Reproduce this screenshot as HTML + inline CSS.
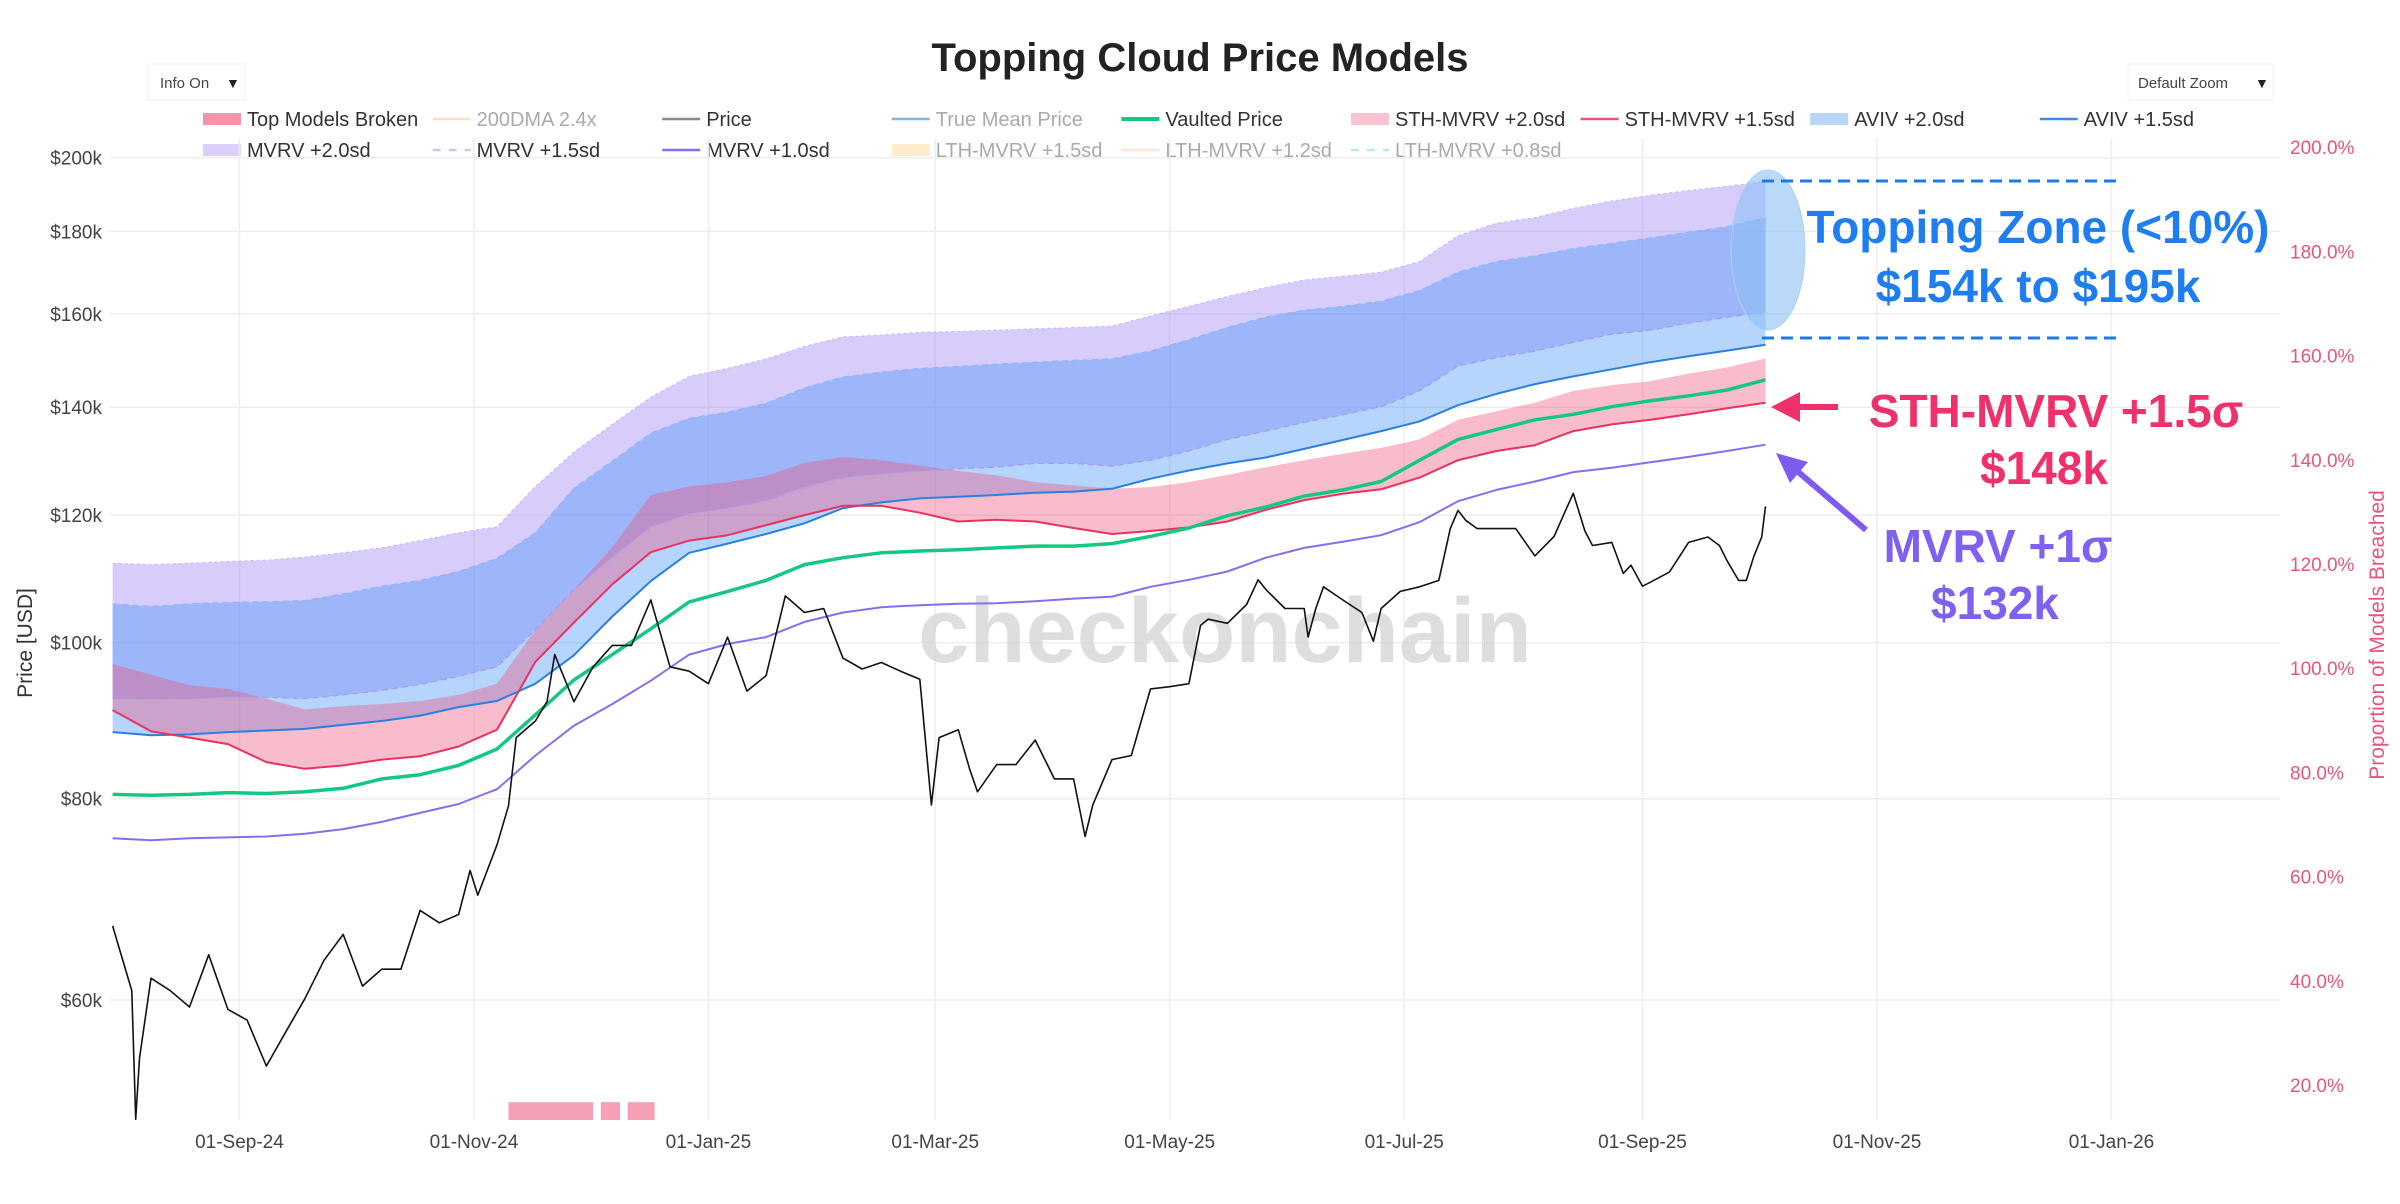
<!DOCTYPE html>
<html><head><meta charset="utf-8"><style>
html,body{margin:0;padding:0;background:#fff;}
svg{display:block;font-family:"Liberation Sans",Arial,sans-serif;}
</style></head><body>
<svg id="chart" width="2400" height="1204" viewBox="0 0 2400 1204">
<rect x="0" y="0" width="2400" height="1204" fill="#fff"/>
<text x="1200" y="71" text-anchor="middle" font-size="40" font-weight="bold" fill="#222">Topping Cloud Price Models</text>
<g><rect x="148" y="64" width="97" height="36" fill="#fff" stroke="#f0f0f0"/><text x="160" y="88" font-size="15" fill="#444">Info On</text><text x="226" y="88" font-size="14" fill="#222">▼</text></g>
<g><rect x="2128" y="64" width="145" height="36" fill="#fff" stroke="#f0f0f0"/><text x="2138" y="88" font-size="15" fill="#444">Default Zoom</text><text x="2255" y="88" font-size="14" fill="#222">▼</text></g>
<g id="legend"></g>
<g id="grid"></g>
<g id="bands"></g>
<text x="1225" y="662" text-anchor="middle" font-size="92" font-weight="bold" fill="#d6d6d6" fill-opacity="0.8">checkonchain</text>
<g id="lines"></g>
<g id="axes"></g>
<g>
<ellipse cx="1768" cy="250" rx="37" ry="80" fill="#8cc0f5" fill-opacity="0.6" stroke="#a8d0f8"/>
<line x1="1762" y1="181" x2="2116" y2="181" stroke="#1a7be8" stroke-width="3" stroke-dasharray="12,7"/>
<line x1="1762" y1="338" x2="2116" y2="338" stroke="#1a7be8" stroke-width="3" stroke-dasharray="12,7"/>
<text x="2038" y="243" text-anchor="middle" font-size="46" font-weight="bold" fill="#1e7ef0">Topping Zone (&lt;10%)</text>
<text x="2038" y="302" text-anchor="middle" font-size="46" font-weight="bold" fill="#1e7ef0">$154k to $195k</text>
<g><line x1="1838" y1="407" x2="1795" y2="407" stroke="#f0306a" stroke-width="6"/><polygon points="1771,407 1800,392 1800,422" fill="#f0306a"/></g>
<text x="2056" y="427" text-anchor="middle" font-size="46" font-weight="bold" fill="#f0306a">STH-MVRV +1.5σ</text>
<text x="2044" y="484" text-anchor="middle" font-size="46" font-weight="bold" fill="#f0306a">$148k</text>
<g><line x1="1866" y1="530" x2="1796" y2="470" stroke="#7f5af0" stroke-width="6"/><polygon points="1776,453 1808,462 1790,483" fill="#7f5af0"/></g>
<text x="1998" y="562" text-anchor="middle" font-size="46" font-weight="bold" fill="#8060f0">MVRV +1σ</text>
<text x="1995" y="619" text-anchor="middle" font-size="46" font-weight="bold" fill="#8060f0">$132k</text>
</g>
</svg>
<script>
// ---- data (day offsets from 2024-07-30, values in $k) ----
const bandDays = [0,10,20,30,40,50,60,70,80,90,100,110,120,130,140,150,160,170,180,190,200,210,220,230,240,250,260,270,280,290,300,310,320,330,340,350,360,370,380,390,400,410,420,430];
const mvrv20 = [112,111.8,112,112.3,112.5,113,113.7,114.5,115.7,117,118,125,131.3,136.6,142,146.3,148,150,152.7,154.8,155.2,155.8,156,156.3,156.6,156.9,157.2,159.5,161.7,164,166.1,167.9,168.8,169.8,172.4,178.9,182.1,183.6,186,188,189.5,190.8,192,193.3];
const mvrv15 = [92.3,92.2,92.3,92.5,92.5,92.3,92.8,93.4,94.2,95.3,96.6,101.9,107.9,113,118,120.2,121.2,122.5,124.9,126.6,127.3,127.8,128.2,128.5,129.2,129.2,128.7,129.8,131.5,133.7,135.3,137,138.5,140.1,143.3,148.5,150.3,151.7,153.6,155.4,156.3,157.9,159.2,160.4];
const mvrv10 = [75.6,75.4,75.6,75.7,75.8,76.1,76.6,77.4,78.4,79.4,81.1,85.1,88.8,91.6,94.7,98.3,99.8,100.8,103,104.4,105.2,105.5,105.7,105.8,106.1,106.5,106.8,108.3,109.4,110.7,112.9,114.5,115.5,116.6,118.8,122.4,124.4,125.9,127.6,128.4,129.4,130.4,131.5,132.7];
const aviv20 = [105.7,105.3,105.7,105.9,106,106.2,107.2,108.4,109.3,110.7,112.8,117,124.7,129.6,134.9,137.8,139,140.8,143.9,146.2,147.2,148,148.4,148.9,149.3,149.7,150,151.7,154.2,156.9,159.3,160.8,161.7,162.9,165.4,169.8,172.4,173.8,175.6,177,178.3,179.8,181.2,183.6];
const aviv15 = [88.0,87.6,87.7,88.0,88.2,88.4,88.9,89.4,90.1,91.2,92.0,94.3,98.2,103.8,109.2,113.7,115.2,116.8,118.6,121.2,122.2,122.9,123.2,123.5,123.9,124.1,124.6,126.4,127.9,129.2,130.3,131.9,133.6,135.3,137.2,140.4,142.7,144.7,146.3,147.8,149.3,150.6,151.8,153.1];
const sth20 = [97.0,95.5,94.1,93.6,92.3,90.9,91.3,91.6,92.0,92.8,94.3,101.9,107.9,114.6,123.5,125,125.8,126.9,129.3,130.4,129.8,128.8,127.8,127,125.8,125.2,124.6,124.9,125.8,127.1,128.5,129.8,131,132.1,133.7,137.5,139.2,140.9,143.3,144.5,145.3,146.9,148.2,150.1];
const sth15 = [90.8,88.1,87.3,86.5,84.3,83.5,83.9,84.6,85,86.2,88.3,97.3,102.9,108.7,113.8,115.7,116.6,118.3,120,121.6,121.6,120.4,118.9,119.2,118.9,117.8,116.8,117.3,117.9,118.9,120.9,122.6,123.7,124.5,126.6,129.8,131.5,132.6,135.3,136.6,137.5,138.6,139.8,140.9];
const vaulted = [80.5,80.4,80.5,80.7,80.6,80.8,81.2,82.3,82.8,83.9,85.9,90.2,94.8,98.3,102,106,107.6,109.3,111.8,112.9,113.7,114,114.2,114.5,114.8,114.8,115.2,116.4,117.8,119.9,121.4,123.3,124.4,125.9,129.8,133.7,135.6,137.5,138.6,140.1,141.3,142.3,143.5,145.6];
const priceDays = [0,5,6,7,10,15,20,25,30,35,40,45,50,55,60,65,70,75,80,85,90,93,95,100,103,105,110,113,115,120,125,130,135,140,145,150,155,160,165,170,175,180,185,190,195,200,205,210,213,215,220,223,225,230,235,240,245,250,253,255,260,265,270,275,280,283,285,290,295,298,300,305,310,311,313,315,320,325,328,330,335,340,343,345,348,350,352,355,360,365,370,375,378,380,383,385,390,393,395,398,400,405,410,415,418,420,423,425,427,429,430];
const priceVals = [66.7,60.8,50.6,55.2,61.9,60.8,59.4,64.0,59.2,58.3,54.6,57.3,60.1,63.5,65.9,61.2,62.7,62.7,68.2,67,67.8,72.2,69.7,74.9,79.2,87.3,89.4,91.9,98.3,91.9,96.6,99.6,99.6,106.3,96.6,96,94.3,100.8,93.3,95.4,106.9,104.4,105,97.8,96.3,97.2,96,94.9,79.3,87.3,88.3,83.4,80.8,84,84,87,82.3,82.3,75.8,79.3,84.6,85.1,93.6,93.9,94.3,102.5,103.4,102.8,105.6,109.4,107.9,105,105,100.8,105,108.3,106.3,104.4,100.2,105,107.6,108.3,108.9,109.3,117.7,120.8,119.1,117.7,117.7,117.7,113.2,116.4,120.8,123.8,117.3,114.9,115.4,110.4,111.7,108.4,109,110.6,115.4,116.3,114.9,112.4,109.3,109.3,113.2,116.3,121.5];
const brokenStart = [103,127,134];
const brokenEnd = [125,132,141];
const brokenVal = [16.7,16.7,16.7];
const leftTicks = [60,80,100,120,140,160,180,200];
const rightTicks = [20,40,60,80,100,120,140,160,180,200];
const dateTickDays = [33,94,155,214,275,336,398,459,520];
const dateTickLabels = ["01-Sep-24","01-Nov-24","01-Jan-25","01-Mar-25","01-May-25","01-Jul-25","01-Sep-25","01-Nov-25","01-Jan-26"];

// ---- scales ----
const PL=110, PR=2280, PT=138, PB=1120;
function xs(d){return 112.6 + d*3.844;}
function ys(v){return 157.7 + Math.log(200/v)*699.6;}
function yr(p){return 1085 - (p-20)*5.21;}
const NS="http://www.w3.org/2000/svg";
function mk(tag, parent){const e=document.createElementNS(NS,tag);parent.appendChild(e);return e;}
function pts(days, vals){return days.map((d,i)=>xs(d).toFixed(1)+","+ys(vals[i]).toFixed(1));}

const grid=document.getElementById('grid');
leftTicks.forEach(t=>{
  const l=mk('line',grid);
  
  
  l.setAttribute('x1',PL);l.setAttribute('x2',PR);l.setAttribute('y1',ys(t));l.setAttribute('y2',ys(t));
  l.setAttribute('stroke','#ededed');l.setAttribute('stroke-width','1.5');
});
dateTickDays.forEach(d=>{
  const l=mk('line',grid);
  
  
  l.setAttribute('x1',xs(d));l.setAttribute('x2',xs(d));l.setAttribute('y1',PT);l.setAttribute('y2',PB);
  l.setAttribute('stroke','#ededed');l.setAttribute('stroke-width','1.5');
});

const bands=document.getElementById('bands');
function band(top,bot,fill,op,name){
  const p=mk('polygon',bands);
  
  
  const a=pts(bandDays,top), b=pts(bandDays,bot).reverse();
  p.setAttribute('points',a.concat(b).join(' '));
  p.setAttribute('fill',fill);p.setAttribute('fill-opacity',op);
}
band(mvrv20,mvrv15,'rgb(160,130,245)',0.41,'mvrv-band');
band(aviv20,aviv15,'rgb(70,150,250)',0.40,'aviv-band');
band(sth20,sth15,'rgb(240,80,120)',0.38,'sth-band');

// broken bars
brokenStart.forEach((s,i)=>{
  const r=mk('rect',bands);
  
  
  const x1=xs(s), x2=xs(brokenEnd[i]), y=yr(brokenVal[i]);
  r.setAttribute('x',x1);r.setAttribute('width',x2-x1);r.setAttribute('y',y);r.setAttribute('height',PB-y);
  r.setAttribute('fill','#f5a0b4');
});

const lines=document.getElementById('lines');
function line(days,vals,color,w,name,dash){
  const p=mk('polyline',lines);
  
  
  p.setAttribute('points',pts(days,vals).join(' '));
  p.setAttribute('fill','none');p.setAttribute('stroke',color);p.setAttribute('stroke-width',w);
  p.setAttribute('stroke-linejoin','round');
  if(dash)p.setAttribute('stroke-dasharray',dash);
}
line(bandDays,mvrv20,'#c9bcf7',1.2,'mvrv-2sd-line','3,3');
line(bandDays,mvrv15,'#a89af0',1.2,'mvrv-1.5sd-line','6,4');
line(bandDays,aviv20,'#8fb6f3',1.2,'aviv-2sd-line','6,4');
line(bandDays,aviv15,'#2a7fe0',2,'aviv-1.5sd-line');
line(bandDays,sth15,'#e8325f',2,'sth-1.5sd-line');
line(bandDays,vaulted,'#14c882',3.5,'vaulted-price-line');
line(bandDays,mvrv10,'#8a6cf0',2,'mvrv-1sd-line');
line(priceDays,priceVals,'#111',1.6,'price-line');

const axes=document.getElementById('axes');
function txt(x,y,s,size,fill,anchor,name){
  const t=mk('text',axes);
  
  
  t.setAttribute('x',x);t.setAttribute('y',y);t.setAttribute('font-size',size);t.setAttribute('fill',fill);
  t.setAttribute('text-anchor',anchor);t.textContent=s;return t;
}
leftTicks.forEach(t=>{txt(102,ys(t)+7,'$'+t+'k',19,'#444','end','left-tick-label');});
rightTicks.forEach(p=>{txt(2290,yr(p)+7,p.toFixed(1)+'%',19,'#e8557a','start','right-tick-label');});
dateTickDays.forEach((d,i)=>{txt(xs(d),1148,dateTickLabels[i],19,'#444','middle','x-tick-label');});
const yt=txt(0,0,'Price [USD]',21,'#333','middle','y-axis-title');
yt.setAttribute('transform','translate(32,643) rotate(-90)');
const rt=txt(0,0,'Proportion of Models Breached',21,'#e8557a','middle','right-axis-title');
rt.setAttribute('transform','translate(2384,635) rotate(-90)');

// legend
const leg=document.getElementById('legend');
const legRow1=[["Top Models Broken","fill","#f593ab",1],["200DMA 2.4x","line","#fde0b8",0],["Price","line","#888",1],["True Mean Price","line","#79b6f0",0],["Vaulted Price","line","#14c882",1],["STH-MVRV +2.0sd","fill","#fac3d1",1],["STH-MVRV +1.5sd","line","#e8557a",1],["AVIV +2.0sd","fill","#b8d6fa",1],["AVIV +1.5sd","line","#3a8be8",1]];
const legRow2=[["MVRV +2.0sd","fill","#d9cffa",1],["MVRV +1.5sd","dash","#cfc4f7",1],["MVRV +1.0sd","line","#8a6cf0",1],["LTH-MVRV +1.5sd","fill","#fdeccc",0],["LTH-MVRV +1.2sd","line","#fbe8d2",0],["LTH-MVRV +0.8sd","dash","#b5ecd5",0]];
[legRow1,legRow2].forEach((row,ri)=>{
  const y=119+ri*31;
  row.forEach((it,i)=>{
    const g=mk('g',leg);
    
    
    const x=203+i*229.6;
    if(it[1]==='fill'){const r=mk('rect',g);r.setAttribute('x',x);r.setAttribute('y',y-6);r.setAttribute('width',38);r.setAttribute('height',12);r.setAttribute('fill',it[2]);}
    else{const l=mk('line',g);l.setAttribute('x1',x);l.setAttribute('x2',x+38);l.setAttribute('y1',y);l.setAttribute('y2',y);l.setAttribute('stroke',it[2]);l.setAttribute('stroke-width',it[0]==='Vaulted Price'?4:2.5);if(it[1]==='dash')l.setAttribute('stroke-dasharray','8,8');}
    const t=mk('text',g);t.setAttribute('x',x+44);t.setAttribute('y',y+7);t.setAttribute('font-size',20);t.setAttribute('fill',it[3]?'#333':'#aaa');t.textContent=it[0];
  });
});
</script>
</body></html>
